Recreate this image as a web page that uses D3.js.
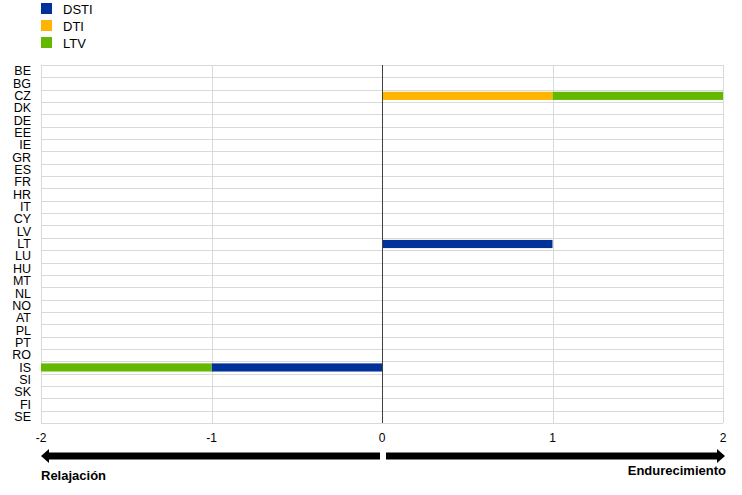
<!DOCTYPE html>
<html>
<head>
<meta charset="utf-8">
<script src="https://cdn.jsdelivr.net/npm/d3@7"></script>
<style>
  body { margin: 0; background: #fff; }
  text { font-family: "Liberation Sans", Arial, sans-serif; }
</style>
</head>
<body>
<div id="chart"></div>
<script>
const countries = ["BE", "BG", "CZ", "DK", "DE", "EE", "IE", "GR", "ES", "FR", "HR", "IT", "CY", "LV",
  "LT", "LU", "HU", "MT", "NL", "NO", "AT", "PL", "PT", "RO", "IS", "SI", "SK", "FI", "SE"];
const seriesNames = ["DSTI", "DTI", "LTV"];
const seriesColors = ["#003299", "#ffb400", "#65b800"];
// non-zero values only, everything else is 0
const dstiValues = { LT: 1, IS: -1 };
const dtiValues = { CZ: 1 };
const ltvValues = { CZ: 1, IS: -1 };
const xTicks = [-2, -1, 0, 1, 2];

const W = 742, H = 495;
const margin = { top: 65, right: 19, bottom: 72, left: 41 };
const width = W - margin.left - margin.right,
  height = H - margin.top - margin.bottom;

const svg = d3.select("#chart")
  .append("svg")
  .attr("width", W)
  .attr("height", H);

const rows = countries.map(c => ({
  country: c,
  DSTI: dstiValues[c] || 0,
  DTI: dtiValues[c] || 0,
  LTV: ltvValues[c] || 0
}));

const stacked = d3.stack()
  .keys(seriesNames)
  .offset(d3.stackOffsetDiverging)(rows);

const x = d3.scaleLinear().domain([-2, 2]).range([0, width]);
const y = d3.scaleBand().domain(countries).range([0, height]).paddingInner(0.34).paddingOuter(0.17);
const color = d3.scaleOrdinal().domain(seriesNames).range(seriesColors);

const g = svg.append("g")
  .attr("transform", `translate(${margin.left}, ${margin.top})`);

// horizontal grid lines at band edges
const step = height / countries.length;
g.selectAll(".hgrid")
  .data(d3.range(countries.length + 1))
  .join("line")
  .attr("x1", 0).attr("x2", width)
  .attr("y1", d => Math.round(d * step) + 0.5)
  .attr("y2", d => Math.round(d * step) + 0.5)
  .attr("stroke", "#d9d9d9");

// vertical grid lines
g.selectAll(".vgrid")
  .data(xTicks.filter(t => t !== 0))
  .join("line")
  .attr("x1", d => Math.round(x(d)) + 0.5)
  .attr("x2", d => Math.round(x(d)) + 0.5)
  .attr("y1", 0).attr("y2", height)
  .attr("stroke", "#d9d9d9");

// bars
g.selectAll(".series")
  .data(stacked)
  .join("g")
  .attr("fill", d => color(d.key))
  .selectAll("rect")
  .data(d => d.filter(v => v[1] - v[0] !== 0))
  .join("rect")
  .attr("x", d => x(Math.min(d[0], d[1])))
  .attr("width", d => Math.abs(x(d[1]) - x(d[0])))
  .attr("y", d => y(d.data.country))
  .attr("height", y.bandwidth());

// zero line
g.append("line")
  .attr("x1", Math.round(x(0)) + 0.5)
  .attr("x2", Math.round(x(0)) + 0.5)
  .attr("y1", 0).attr("y2", height)
  .attr("stroke", "#404040");

// y labels
g.selectAll(".ylab")
  .data(countries)
  .join("text")
  .attr("x", -10)
  .attr("y", d => y(d) + y.bandwidth() / 2)
  .attr("dy", "0.33em")
  .attr("text-anchor", "end")
  .attr("font-size", "12.5px")
  .attr("fill", "#000")
  .text(d => d);

// x tick labels
g.selectAll(".xlab")
  .data(xTicks)
  .join("text")
  .attr("x", d => x(d))
  .attr("y", height + 19)
  .attr("text-anchor", "middle")
  .attr("font-size", "12px")
  .attr("fill", "#000")
  .text(d => d);

// direction arrows
const arrowY = height + 33;
function arrow(x0, x1) {
  const dir = x1 > x0 ? 1 : -1;
  const headLen = 8;
  const shaftHalf = 3.5, headHalf = 7;
  const xb = x1 - dir * headLen;
  const pts = [
    [x0, arrowY - shaftHalf], [xb, arrowY - shaftHalf], [xb, arrowY - headHalf],
    [x1, arrowY], [xb, arrowY + headHalf], [xb, arrowY + shaftHalf], [x0, arrowY + shaftHalf]
  ];
  g.append("path")
    .attr("d", d3.line()(pts) + "Z")
    .attr("fill", "#000");
}
arrow(x(0) - 2, x(-2));
arrow(x(0) + 4, x(2) + 2);

g.append("text")
  .attr("x", 0)
  .attr("y", height + 57)
  .attr("font-size", "13px")
  .attr("font-weight", "bold")
  .text("Relajación");

g.append("text")
  .attr("x", width + 3)
  .attr("y", height + 52)
  .attr("text-anchor", "end")
  .attr("font-size", "13px")
  .attr("font-weight", "bold")
  .text("Endurecimiento");

// legend
const legend = svg.append("g")
  .attr("transform", "translate(41, 3)");
const li = legend.selectAll("g")
  .data(seriesNames)
  .join("g")
  .attr("transform", (d, i) => `translate(0, ${i * 17})`);
li.append("rect")
  .attr("width", 11).attr("height", 11)
  .attr("fill", d => color(d));
li.append("text")
  .attr("x", 22)
  .attr("y", 6)
  .attr("dy", "0.36em")
  .attr("font-size", "13px")
  .text(d => d);
</script>
</body>
</html>
